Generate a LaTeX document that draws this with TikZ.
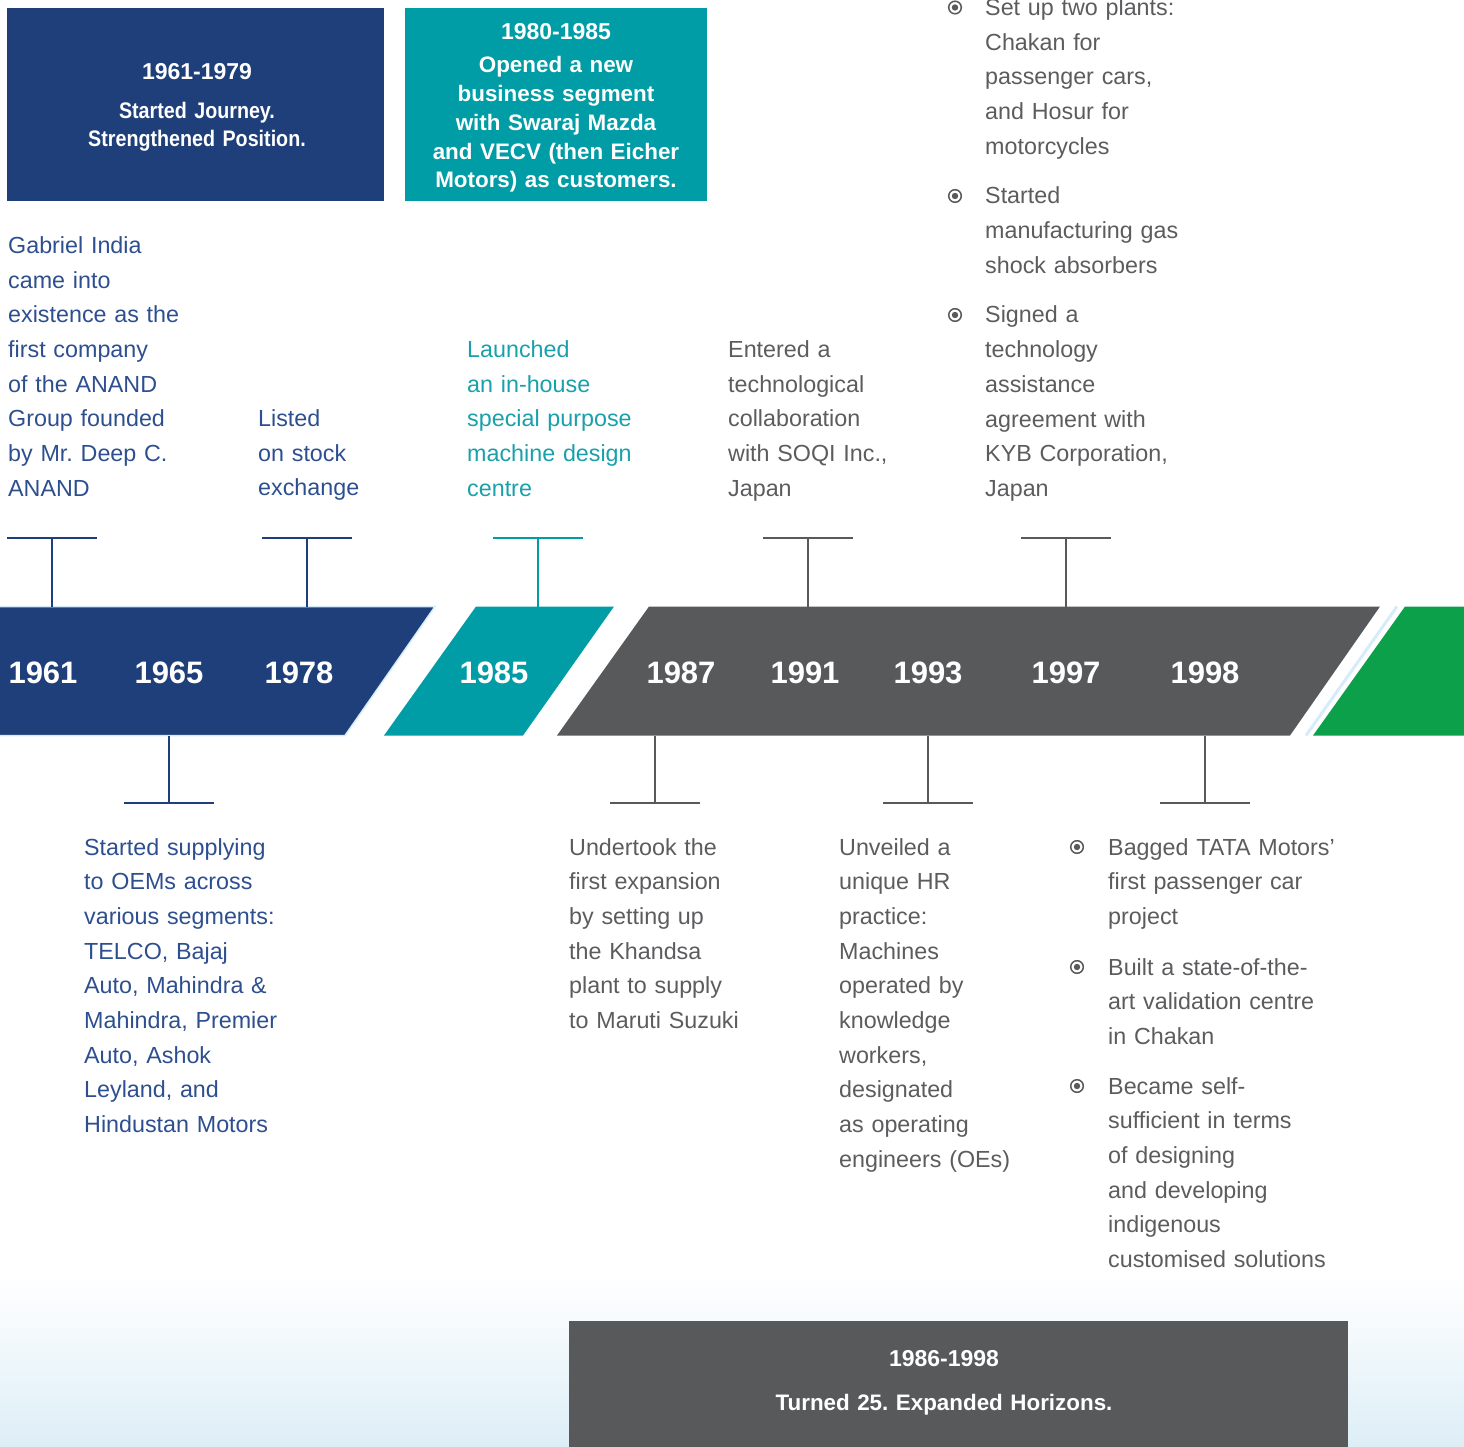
\documentclass[tikz,border=0pt]{standalone}
\usepackage{fontspec}
\setmainfont{Liberation Sans}
\newfontfamily\condfont{Liberation Sans}[FakeStretch=0.875]
\usetikzlibrary{calc}
\frenchspacing
\definecolor{navy}{HTML}{1F3F7B}
\definecolor{teal}{HTML}{009DA6}
\definecolor{slate}{HTML}{58595B}
\definecolor{leaf}{HTML}{0CA04A}
\definecolor{edgeblue}{HTML}{D6ECFA}
\definecolor{navytxt}{HTML}{2E4F8F}
\definecolor{tealtxt}{HTML}{19A0AA}
\definecolor{graytxt}{HTML}{5C5C5F}
\definecolor{wash}{HTML}{DDEEF7}
\newcommand\bodyfont{\fontsize{23.3}{34.7}\selectfont}
\newcommand\yearfont{\fontsize{31}{36}\selectfont\bfseries}
\newcommand\titlefont{\fontsize{23}{28}\selectfont\bfseries}
\newcommand\headfont{\condfont\fontsize{22.5}{28.3}\selectfont\bfseries}
\newcommand\wideheadfont{\fontsize{22.4}{28.7}\selectfont\bfseries}
\begin{document}
\begin{tikzpicture}[x=1pt,y=-1pt,
  body/.style={anchor=base west, inner sep=0pt, text width=380pt, align=left, font=\bodyfont},
  yearlbl/.style={anchor=base, inner sep=0pt, text=white, font=\yearfont},
  boxtitle/.style={anchor=base, inner sep=0pt, text=white, font=\titlefont},
  boxtext/.style={anchor=base, inner sep=0pt, text=white, text width=360pt, align=center, font=\headfont},
  wideboxtext/.style={boxtext, font=\wideheadfont},
  hdbox/.style={anchor=north west, inner sep=0pt, draw=none},
  tick/.style={line width=2.6pt},
  ring/.style={draw=slate, line width=1.5pt},
  dot/.style={fill=slate}
]
\useasboundingbox (0,0) rectangle (1464,1447);
\clip (0,0) rectangle (1464,1447);

% background wash at the bottom
\fill[top color=white, bottom color=wash] (0,1275) rectangle (1464,1447);

% header boxes
\node[hdbox, fill=navy, minimum width=377pt, minimum height=193pt] (hb1) at (7,8) {};
\node[hdbox, fill=teal, minimum width=302pt, minimum height=193pt] (hb2) at (405,8) {};
\node[hdbox, fill=slate, minimum width=779pt, minimum height=140pt] (hb3) at (569,1321) {};

\node[boxtitle] (ht1) at (197,79.5) {1961-1979};
\node[boxtext] (hx1) at (197,118.5) {Started Journey.\\Strengthened Position.};
\node[boxtitle] (ht2) at (556,39.3) {1980-1985};
\node[wideboxtext] (hx2) at (556,73) {Opened a new\\business segment\\with Swaraj Mazda\\and VECV (then Eicher\\Motors) as customers.};
\node[boxtitle] (ht3) at (944,1366.5) {1986-1998};
\node[wideboxtext] (hx3) at (944,1410.5) {Turned 25. Expanded Horizons.};

% timeline band
\fill[navy, draw=edgeblue, line width=1.5pt] (-5,606.5) -- (435,606.5) -- (345,735.5) -- (-5,735.5) -- cycle;
\fill[teal] (476,606.5) -- (614,606.5) -- (523,735.5) -- (384,735.5) -- cycle;
\fill[slate] (649,606.5) -- (1380,606.5) -- (1290,735.5) -- (557,735.5) -- cycle;
\draw[edgeblue, line width=3pt] (1397,606.5) -- (1306,735.5);
\fill[leaf] (1405,606.5) -- (1470,606.5) -- (1470,735.5) -- (1313,735.5) -- cycle;

% years
\node[yearlbl] (y61) at (43,683) {1961};
\node[yearlbl] (y65) at (169,683) {1965};
\node[yearlbl] (y78) at (299,683) {1978};
\node[yearlbl] (y85) at (494,683) {1985};
\node[yearlbl] (y87) at (681,683) {1987};
\node[yearlbl] (y91) at (805,683) {1991};
\node[yearlbl] (y93) at (928,683) {1993};
\node[yearlbl] (y97) at (1066,683) {1997};
\node[yearlbl] (y98) at (1205,683) {1998};

% T markers above the band
\foreach \nm/\xx/\cc in {u61/52/navy, u78/307/navy, u85/538/teal, u91/808/slate, u97/1066/slate}{
  \coordinate (\nm t) at (\xx,538);
  \coordinate (\nm b) at (\xx,606.5);
  \draw[tick,\cc] ($(\nm t)+(-45,0)$) -- ($(\nm t)+(45,0)$);
  \draw[tick,\cc] (\nm t) -- (\nm b);
}
% T markers below the band
\foreach \nm/\xx/\cc in {d65/169/navy, d87/655/slate, d93/928/slate, d98/1205/slate}{
  \coordinate (\nm t) at (\xx,735.5);
  \coordinate (\nm b) at (\xx,803);
  \draw[tick,\cc] ($(\nm b)+(-45,0)$) -- ($(\nm b)+(45,0)$);
  \draw[tick,\cc] (\nm t) -- (\nm b);
}

% texts above
\node[body, text=navytxt] (t61) at (8,253.5) {Gabriel India\\came into\\existence as the\\first company\\of the ANAND\\Group founded\\by Mr. Deep C.\\ANAND};
\node[body, text=navytxt] (t78) at (258,426.5) {Listed\\on stock\\exchange};
\node[body, text=tealtxt] (t85) at (467,357.5) {Launched\\an in-house\\special purpose\\machine design\\centre};
\node[body, text=graytxt] (t91) at (728,357.5) {Entered a\\technological\\collaboration\\with SOQI Inc.,\\Japan};
\node[body, text=graytxt] (t97a) at (985,15.5) {Set up two plants:\\Chakan for\\passenger cars,\\and Hosur for\\motorcycles};
\node[body, text=graytxt] (t97b) at (985,204) {Started\\manufacturing gas\\shock absorbers};
\node[body, text=graytxt] (t97c) at (985,323) {Signed a\\technology\\assistance\\agreement with\\KYB Corporation,\\Japan};

% texts below
\node[body, text=navytxt] (t65) at (84,855) {Started supplying\\to OEMs across\\various segments:\\TELCO, Bajaj\\Auto, Mahindra \&\\Mahindra, Premier\\Auto, Ashok\\Leyland, and\\Hindustan Motors};
\node[body, text=graytxt] (t87) at (569,855) {Undertook the\\first expansion\\by setting up\\the Khandsa\\plant to supply\\to Maruti Suzuki};
\node[body, text=graytxt] (t93) at (839,855) {Unveiled a\\unique HR\\practice:\\Machines\\operated by\\knowledge\\workers,\\designated\\as operating\\engineers (OEs)};
\node[body, text=graytxt] (t98a) at (1108,855) {Bagged TATA Motors'\\first passenger car\\project};
\node[body, text=graytxt] (t98b) at (1108,975) {Built a state-of-the-\\art validation centre\\in Chakan};
\node[body, text=graytxt] (t98c) at (1108,1094) {Became self-\\sufficient in terms\\of designing\\and developing\\indigenous\\customised solutions};

% bullets
\foreach \it/\dx in {t97a/-30, t97b/-30, t97c/-30, t98a/-31, t98b/-31, t98c/-31}{
  \draw[ring] ($(\it.base west)+(\dx,-8)$) circle[radius=6.3pt];
  \fill[dot] ($(\it.base west)+(\dx,-8)$) circle[radius=3.2pt];
}
\end{tikzpicture}
\end{document}
